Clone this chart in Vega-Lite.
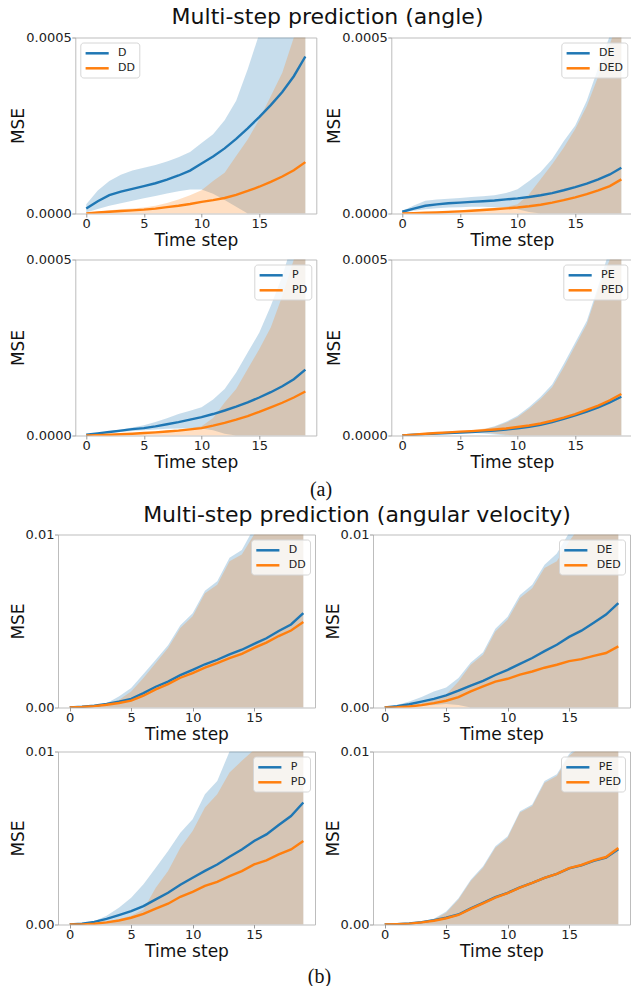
{
"$schema": "https://vega.github.io/schema/vega-lite/v6.json",
"padding": {"left": 8, "top": 5.5, "right": 0, "bottom": 0},
"config": {
  "font": "DejaVu Sans",
  "view": {"stroke": "#bdbdbd", "strokeWidth": 1},
  "axis": {"domain": false, "grid": false, "tickColor": "#9a9a9a", "tickSize": 3.5, "labelFontSize": 13, "labelColor": "#222222", "titleFontSize": 17, "titleFontWeight": "normal", "titleColor": "#111111", "labelFlush": false, "labelFont": "DejaVu Sans", "titleFont": "DejaVu Sans"},
  "axisX": {"labelPadding": 0.5, "titlePadding": 2},
  "axisY": {"labelPadding": 0.5, "titlePadding": -2},
  "legend": {"labelFontSize": 11, "labelFont": "DejaVu Sans", "labelColor": "#222222", "symbolType": "M-1,0H3.2", "symbolStrokeWidth": 2.5, "symbolSize": 121, "fillColor": "rgba(255,255,255,0.8)", "strokeColor": "#d6d6d6", "cornerRadius": 3, "padding": 3.8, "offset": 5, "rowPadding": 3, "labelOffset": 20},
  "title": {"font": "DejaVu Sans", "fontWeight": "normal", "color": "#111111"}
},
"datasets": {
"a1": [
{"s":"D","t":0,"m":1.4e-5,"lo":0.3e-5,"hi":2.6e-5},{"s":"D","t":1,"m":3.5e-5,"lo":1.3e-5,"hi":6.5e-5},{"s":"D","t":2,"m":5.2e-5,"lo":2.2e-5,"hi":9.2e-5},{"s":"D","t":3,"m":6.2e-5,"lo":2.9e-5,"hi":11.0e-5},{"s":"D","t":4,"m":7.0e-5,"lo":3.6e-5,"hi":12.2e-5},{"s":"D","t":5,"m":7.8e-5,"lo":4.3e-5,"hi":13.0e-5},{"s":"D","t":6,"m":8.6e-5,"lo":5.0e-5,"hi":13.8e-5},{"s":"D","t":7,"m":9.6e-5,"lo":5.7e-5,"hi":14.8e-5},{"s":"D","t":8,"m":10.8e-5,"lo":6.3e-5,"hi":16.0e-5},{"s":"D","t":9,"m":12.2e-5,"lo":6.8e-5,"hi":17.5e-5},{"s":"D","t":10,"m":14.2e-5,"lo":6.8e-5,"hi":20.0e-5},{"s":"D","t":11,"m":16.2e-5,"lo":5.6e-5,"hi":22.5e-5},{"s":"D","t":12,"m":18.5e-5,"lo":3.8e-5,"hi":26.5e-5},{"s":"D","t":13,"m":21.2e-5,"lo":1.9e-5,"hi":32e-5},{"s":"D","t":14,"m":24.2e-5,"lo":0,"hi":41e-5},{"s":"D","t":15,"m":27.4e-5,"lo":0,"hi":51e-5},{"s":"D","t":16,"m":30.8e-5,"lo":0,"hi":60e-5},{"s":"D","t":17,"m":34.5e-5,"lo":0,"hi":68e-5},{"s":"D","t":18,"m":39.0e-5,"lo":0,"hi":78e-5},{"s":"D","t":19,"m":44.6e-5,"lo":0,"hi":88e-5},
{"s":"DD","t":0,"m":0,"lo":0,"hi":0.1e-5},{"s":"DD","t":1,"m":0.3e-5,"lo":0,"hi":0.5e-5},{"s":"DD","t":2,"m":0.5e-5,"lo":0,"hi":0.9e-5},{"s":"DD","t":3,"m":0.7e-5,"lo":0,"hi":1.2e-5},{"s":"DD","t":4,"m":0.9e-5,"lo":0,"hi":1.4e-5},{"s":"DD","t":5,"m":1.1e-5,"lo":0,"hi":1.7e-5},{"s":"DD","t":6,"m":1.4e-5,"lo":0,"hi":2.2e-5},{"s":"DD","t":7,"m":1.8e-5,"lo":0,"hi":3.0e-5},{"s":"DD","t":8,"m":2.2e-5,"lo":0,"hi":4.0e-5},{"s":"DD","t":9,"m":2.7e-5,"lo":0,"hi":5.2e-5},{"s":"DD","t":10,"m":3.3e-5,"lo":0,"hi":6.6e-5},{"s":"DD","t":11,"m":3.8e-5,"lo":0,"hi":9.2e-5},{"s":"DD","t":12,"m":4.4e-5,"lo":0,"hi":11.6e-5},{"s":"DD","t":13,"m":5.3e-5,"lo":0,"hi":16.3e-5},{"s":"DD","t":14,"m":6.4e-5,"lo":0,"hi":21e-5},{"s":"DD","t":15,"m":7.6e-5,"lo":0,"hi":26.7e-5},{"s":"DD","t":16,"m":9.0e-5,"lo":0,"hi":33.3e-5},{"s":"DD","t":17,"m":10.5e-5,"lo":0,"hi":40e-5},{"s":"DD","t":18,"m":12.3e-5,"lo":0,"hi":50e-5},{"s":"DD","t":19,"m":14.6e-5,"lo":0,"hi":60e-5}
],
"a2": [
{"s":"DE","t":0,"m":0.5e-5,"lo":0.3e-5,"hi":0.7e-5},{"s":"DE","t":1,"m":1.4e-5,"lo":0.8e-5,"hi":2.3e-5},{"s":"DE","t":2,"m":2.2e-5,"lo":1.2e-5,"hi":3.6e-5},{"s":"DE","t":3,"m":2.6e-5,"lo":1.5e-5,"hi":4.0e-5},{"s":"DE","t":4,"m":2.9e-5,"lo":1.7e-5,"hi":4.2e-5},{"s":"DE","t":5,"m":3.1e-5,"lo":1.8e-5,"hi":4.4e-5},{"s":"DE","t":6,"m":3.3e-5,"lo":1.9e-5,"hi":4.7e-5},{"s":"DE","t":7,"m":3.5e-5,"lo":1.9e-5,"hi":4.9e-5},{"s":"DE","t":8,"m":3.7e-5,"lo":1.8e-5,"hi":5.2e-5},{"s":"DE","t":9,"m":4.0e-5,"lo":1.7e-5,"hi":5.8e-5},{"s":"DE","t":10,"m":4.3e-5,"lo":1.2e-5,"hi":6.9e-5},{"s":"DE","t":11,"m":4.7e-5,"lo":0.4e-5,"hi":9.2e-5},{"s":"DE","t":12,"m":5.2e-5,"lo":0,"hi":11.8e-5},{"s":"DE","t":13,"m":5.8e-5,"lo":0,"hi":15.5e-5},{"s":"DE","t":14,"m":6.6e-5,"lo":0,"hi":20.5e-5},{"s":"DE","t":15,"m":7.5e-5,"lo":0,"hi":25e-5},{"s":"DE","t":16,"m":8.5e-5,"lo":0,"hi":32e-5},{"s":"DE","t":17,"m":9.7e-5,"lo":0,"hi":41.5e-5},{"s":"DE","t":18,"m":11.1e-5,"lo":0,"hi":50.5e-5},{"s":"DE","t":19,"m":13.0e-5,"lo":0,"hi":60e-5},
{"s":"DED","t":0,"m":0,"lo":0,"hi":0.05e-5},{"s":"DED","t":1,"m":0.1e-5,"lo":0,"hi":0.2e-5},{"s":"DED","t":2,"m":0.2e-5,"lo":0,"hi":0.35e-5},{"s":"DED","t":3,"m":0.3e-5,"lo":0,"hi":0.5e-5},{"s":"DED","t":4,"m":0.45e-5,"lo":0,"hi":0.7e-5},{"s":"DED","t":5,"m":0.6e-5,"lo":0,"hi":0.9e-5},{"s":"DED","t":6,"m":0.8e-5,"lo":0,"hi":1.1e-5},{"s":"DED","t":7,"m":1.0e-5,"lo":0,"hi":1.35e-5},{"s":"DED","t":8,"m":1.2e-5,"lo":0,"hi":1.6e-5},{"s":"DED","t":9,"m":1.45e-5,"lo":0,"hi":1.9e-5},{"s":"DED","t":10,"m":1.7e-5,"lo":0,"hi":2.6e-5},{"s":"DED","t":11,"m":2.05e-5,"lo":0,"hi":5.5e-5},{"s":"DED","t":12,"m":2.5e-5,"lo":0,"hi":9.7e-5},{"s":"DED","t":13,"m":3.1e-5,"lo":0,"hi":14e-5},{"s":"DED","t":14,"m":3.8e-5,"lo":0,"hi":18.7e-5},{"s":"DED","t":15,"m":4.6e-5,"lo":0,"hi":24e-5},{"s":"DED","t":16,"m":5.5e-5,"lo":0,"hi":30.5e-5},{"s":"DED","t":17,"m":6.6e-5,"lo":0,"hi":39e-5},{"s":"DED","t":18,"m":7.8e-5,"lo":0,"hi":48e-5},{"s":"DED","t":19,"m":9.7e-5,"lo":0,"hi":58e-5}
],
"a3": [
{"s":"P","t":0,"m":0.2e-5,"lo":0.1e-5,"hi":0.2e-5},{"s":"P","t":1,"m":0.6e-5,"lo":0.4e-5,"hi":0.7e-5},{"s":"P","t":2,"m":1.0e-5,"lo":0.7e-5,"hi":1.2e-5},{"s":"P","t":3,"m":1.4e-5,"lo":1.0e-5,"hi":1.7e-5},{"s":"P","t":4,"m":1.8e-5,"lo":1.3e-5,"hi":2.3e-5},{"s":"P","t":5,"m":2.1e-5,"lo":1.5e-5,"hi":2.9e-5},{"s":"P","t":6,"m":2.6e-5,"lo":1.7e-5,"hi":3.8e-5},{"s":"P","t":7,"m":3.2e-5,"lo":1.9e-5,"hi":4.9e-5},{"s":"P","t":8,"m":3.8e-5,"lo":2.0e-5,"hi":6.1e-5},{"s":"P","t":9,"m":4.5e-5,"lo":2.1e-5,"hi":7.0e-5},{"s":"P","t":10,"m":5.2e-5,"lo":2.0e-5,"hi":8.0e-5},{"s":"P","t":11,"m":6.1e-5,"lo":1.5e-5,"hi":10.2e-5},{"s":"P","t":12,"m":7.1e-5,"lo":0.5e-5,"hi":13.2e-5},{"s":"P","t":13,"m":8.2e-5,"lo":0,"hi":17.9e-5},{"s":"P","t":14,"m":9.4e-5,"lo":0,"hi":23.6e-5},{"s":"P","t":15,"m":10.8e-5,"lo":0,"hi":29.2e-5},{"s":"P","t":16,"m":12.3e-5,"lo":0,"hi":36.8e-5},{"s":"P","t":17,"m":14.0e-5,"lo":0,"hi":45.3e-5},{"s":"P","t":18,"m":16.0e-5,"lo":0,"hi":56e-5},{"s":"P","t":19,"m":18.7e-5,"lo":0,"hi":68e-5},
{"s":"PD","t":0,"m":0,"lo":0,"hi":0.02e-5},{"s":"PD","t":1,"m":0.1e-5,"lo":0,"hi":0.15e-5},{"s":"PD","t":2,"m":0.2e-5,"lo":0,"hi":0.3e-5},{"s":"PD","t":3,"m":0.35e-5,"lo":0,"hi":0.5e-5},{"s":"PD","t":4,"m":0.5e-5,"lo":0,"hi":0.7e-5},{"s":"PD","t":5,"m":0.7e-5,"lo":0,"hi":0.9e-5},{"s":"PD","t":6,"m":0.9e-5,"lo":0,"hi":1.1e-5},{"s":"PD","t":7,"m":1.15e-5,"lo":0,"hi":1.4e-5},{"s":"PD","t":8,"m":1.4e-5,"lo":0,"hi":1.7e-5},{"s":"PD","t":9,"m":1.75e-5,"lo":0,"hi":2.1e-5},{"s":"PD","t":10,"m":2.1e-5,"lo":0,"hi":2.6e-5},{"s":"PD","t":11,"m":2.8e-5,"lo":0,"hi":5.0e-5},{"s":"PD","t":12,"m":3.6e-5,"lo":0,"hi":9.4e-5},{"s":"PD","t":13,"m":4.5e-5,"lo":0,"hi":13.2e-5},{"s":"PD","t":14,"m":5.5e-5,"lo":0,"hi":18.9e-5},{"s":"PD","t":15,"m":6.7e-5,"lo":0,"hi":24.5e-5},{"s":"PD","t":16,"m":8.0e-5,"lo":0,"hi":30.7e-5},{"s":"PD","t":17,"m":9.3e-5,"lo":0,"hi":39.6e-5},{"s":"PD","t":18,"m":10.8e-5,"lo":0,"hi":50e-5},{"s":"PD","t":19,"m":12.5e-5,"lo":0,"hi":62e-5}
],
"a4": [
{"s":"PE","t":0,"m":0,"lo":0,"hi":0},{"s":"PE","t":1,"m":0.2e-5,"lo":0.15e-5,"hi":0.3e-5},{"s":"PE","t":2,"m":0.4e-5,"lo":0.3e-5,"hi":0.5e-5},{"s":"PE","t":3,"m":0.55e-5,"lo":0.4e-5,"hi":0.7e-5},{"s":"PE","t":4,"m":0.7e-5,"lo":0.5e-5,"hi":0.9e-5},{"s":"PE","t":5,"m":0.85e-5,"lo":0.6e-5,"hi":1.1e-5},{"s":"PE","t":6,"m":1.0e-5,"lo":0.7e-5,"hi":1.3e-5},{"s":"PE","t":7,"m":1.2e-5,"lo":0.6e-5,"hi":1.7e-5},{"s":"PE","t":8,"m":1.4e-5,"lo":0.3e-5,"hi":2.6e-5},{"s":"PE","t":9,"m":1.7e-5,"lo":0,"hi":3.9e-5},{"s":"PE","t":10,"m":2.05e-5,"lo":0,"hi":5.6e-5},{"s":"PE","t":11,"m":2.5e-5,"lo":0,"hi":8.1e-5},{"s":"PE","t":12,"m":3.0e-5,"lo":0,"hi":11.0e-5},{"s":"PE","t":13,"m":3.8e-5,"lo":0,"hi":14.5e-5},{"s":"PE","t":14,"m":4.7e-5,"lo":0,"hi":20.3e-5},{"s":"PE","t":15,"m":5.7e-5,"lo":0,"hi":26.4e-5},{"s":"PE","t":16,"m":6.8e-5,"lo":0,"hi":32.5e-5},{"s":"PE","t":17,"m":8.0e-5,"lo":0,"hi":42.5e-5},{"s":"PE","t":18,"m":9.4e-5,"lo":0,"hi":53e-5},{"s":"PE","t":19,"m":11.0e-5,"lo":0,"hi":64e-5},
{"s":"PED","t":0,"m":0,"lo":0,"hi":0},{"s":"PED","t":1,"m":0.25e-5,"lo":0.2e-5,"hi":0.3e-5},{"s":"PED","t":2,"m":0.5e-5,"lo":0.4e-5,"hi":0.6e-5},{"s":"PED","t":3,"m":0.7e-5,"lo":0.6e-5,"hi":0.8e-5},{"s":"PED","t":4,"m":0.9e-5,"lo":0.8e-5,"hi":1.0e-5},{"s":"PED","t":5,"m":1.1e-5,"lo":0.9e-5,"hi":1.3e-5},{"s":"PED","t":6,"m":1.25e-5,"lo":1.0e-5,"hi":1.5e-5},{"s":"PED","t":7,"m":1.45e-5,"lo":0.9e-5,"hi":1.9e-5},{"s":"PED","t":8,"m":1.7e-5,"lo":0.6e-5,"hi":2.4e-5},{"s":"PED","t":9,"m":2.0e-5,"lo":0.2e-5,"hi":3.6e-5},{"s":"PED","t":10,"m":2.4e-5,"lo":0,"hi":5.2e-5},{"s":"PED","t":11,"m":2.85e-5,"lo":0,"hi":7.6e-5},{"s":"PED","t":12,"m":3.4e-5,"lo":0,"hi":10.4e-5},{"s":"PED","t":13,"m":4.2e-5,"lo":0,"hi":13.7e-5},{"s":"PED","t":14,"m":5.1e-5,"lo":0,"hi":19.3e-5},{"s":"PED","t":15,"m":6.1e-5,"lo":0,"hi":25.5e-5},{"s":"PED","t":16,"m":7.3e-5,"lo":0,"hi":31.6e-5},{"s":"PED","t":17,"m":8.5e-5,"lo":0,"hi":41.5e-5},{"s":"PED","t":18,"m":10.0e-5,"lo":0,"hi":50e-5},{"s":"PED","t":19,"m":11.8e-5,"lo":0,"hi":60e-5}
],
"b1": [
{"s":"D","t":0,"m":0,"lo":0,"hi":0},{"s":"D","t":1,"m":0.04e-3,"lo":0,"hi":0.05e-3},{"s":"D","t":2,"m":0.1e-3,"lo":0,"hi":0.12e-3},{"s":"D","t":3,"m":0.2e-3,"lo":0,"hi":0.25e-3},{"s":"D","t":4,"m":0.33e-3,"lo":0,"hi":0.64e-3},{"s":"D","t":5,"m":0.5e-3,"lo":0,"hi":1.12e-3},{"s":"D","t":6,"m":0.83e-3,"lo":0,"hi":1.93e-3},{"s":"D","t":7,"m":1.2e-3,"lo":0,"hi":2.76e-3},{"s":"D","t":8,"m":1.5e-3,"lo":0,"hi":3.6e-3},{"s":"D","t":9,"m":1.87e-3,"lo":0,"hi":4.75e-3},{"s":"D","t":10,"m":2.18e-3,"lo":0,"hi":5.45e-3},{"s":"D","t":11,"m":2.5e-3,"lo":0,"hi":6.75e-3},{"s":"D","t":12,"m":2.76e-3,"lo":0,"hi":7.3e-3},{"s":"D","t":13,"m":3.07e-3,"lo":0,"hi":8.65e-3},{"s":"D","t":14,"m":3.34e-3,"lo":0,"hi":9.1e-3},{"s":"D","t":15,"m":3.68e-3,"lo":0,"hi":10.4e-3},{"s":"D","t":16,"m":4.0e-3,"lo":0,"hi":11.7e-3},{"s":"D","t":17,"m":4.42e-3,"lo":0,"hi":12.9e-3},{"s":"D","t":18,"m":4.8e-3,"lo":0,"hi":14e-3},{"s":"D","t":19,"m":5.46e-3,"lo":0,"hi":15.5e-3},
{"s":"DD","t":0,"m":0,"lo":0,"hi":0},{"s":"DD","t":1,"m":0.03e-3,"lo":0,"hi":0.03e-3},{"s":"DD","t":2,"m":0.08e-3,"lo":0,"hi":0.09e-3},{"s":"DD","t":3,"m":0.16e-3,"lo":0,"hi":0.2e-3},{"s":"DD","t":4,"m":0.26e-3,"lo":0,"hi":0.44e-3},{"s":"DD","t":5,"m":0.4e-3,"lo":0,"hi":0.93e-3},{"s":"DD","t":6,"m":0.68e-3,"lo":0,"hi":1.7e-3},{"s":"DD","t":7,"m":1.05e-3,"lo":0,"hi":2.57e-3},{"s":"DD","t":8,"m":1.35e-3,"lo":0,"hi":3.44e-3},{"s":"DD","t":9,"m":1.72e-3,"lo":0,"hi":4.6e-3},{"s":"DD","t":10,"m":1.99e-3,"lo":0,"hi":5.27e-3},{"s":"DD","t":11,"m":2.3e-3,"lo":0,"hi":6.6e-3},{"s":"DD","t":12,"m":2.56e-3,"lo":0,"hi":7.1e-3},{"s":"DD","t":13,"m":2.85e-3,"lo":0,"hi":8.46e-3},{"s":"DD","t":14,"m":3.1e-3,"lo":0,"hi":8.84e-3},{"s":"DD","t":15,"m":3.45e-3,"lo":0,"hi":10.0e-3},{"s":"DD","t":16,"m":3.75e-3,"lo":0,"hi":11.2e-3},{"s":"DD","t":17,"m":4.13e-3,"lo":0,"hi":12.4e-3},{"s":"DD","t":18,"m":4.45e-3,"lo":0,"hi":13.6e-3},{"s":"DD","t":19,"m":4.94e-3,"lo":0,"hi":15e-3}
],
"b2": [
{"s":"DE","t":0,"m":0,"lo":0,"hi":0},{"s":"DE","t":1,"m":0.08e-3,"lo":0.02e-3,"hi":0.15e-3},{"s":"DE","t":2,"m":0.19e-3,"lo":0.05e-3,"hi":0.35e-3},{"s":"DE","t":3,"m":0.34e-3,"lo":0.1e-3,"hi":0.6e-3},{"s":"DE","t":4,"m":0.5e-3,"lo":0.15e-3,"hi":0.93e-3},{"s":"DE","t":5,"m":0.7e-3,"lo":0.2e-3,"hi":1.15e-3},{"s":"DE","t":6,"m":0.97e-3,"lo":0.15e-3,"hi":1.7e-3},{"s":"DE","t":7,"m":1.27e-3,"lo":0,"hi":2.6e-3},{"s":"DE","t":8,"m":1.54e-3,"lo":0,"hi":3.2e-3},{"s":"DE","t":9,"m":1.88e-3,"lo":0,"hi":4.55e-3},{"s":"DE","t":10,"m":2.18e-3,"lo":0,"hi":5.25e-3},{"s":"DE","t":11,"m":2.52e-3,"lo":0,"hi":6.5e-3},{"s":"DE","t":12,"m":2.86e-3,"lo":0,"hi":7.1e-3},{"s":"DE","t":13,"m":3.26e-3,"lo":0,"hi":8.25e-3},{"s":"DE","t":14,"m":3.63e-3,"lo":0,"hi":8.9e-3},{"s":"DE","t":15,"m":4.08e-3,"lo":0,"hi":10.1e-3},{"s":"DE","t":16,"m":4.44e-3,"lo":0,"hi":11.2e-3},{"s":"DE","t":17,"m":4.9e-3,"lo":0,"hi":12.4e-3},{"s":"DE","t":18,"m":5.37e-3,"lo":0,"hi":13.5e-3},{"s":"DE","t":19,"m":6.04e-3,"lo":0,"hi":15e-3},
{"s":"DED","t":0,"m":0,"lo":0,"hi":0},{"s":"DED","t":1,"m":0.02e-3,"lo":0,"hi":0.04e-3},{"s":"DED","t":2,"m":0.06e-3,"lo":0,"hi":0.12e-3},{"s":"DED","t":3,"m":0.14e-3,"lo":0,"hi":0.25e-3},{"s":"DED","t":4,"m":0.25e-3,"lo":0,"hi":0.45e-3},{"s":"DED","t":5,"m":0.39e-3,"lo":0,"hi":0.75e-3},{"s":"DED","t":6,"m":0.6e-3,"lo":0,"hi":1.5e-3},{"s":"DED","t":7,"m":0.93e-3,"lo":0,"hi":2.47e-3},{"s":"DED","t":8,"m":1.22e-3,"lo":0,"hi":3.05e-3},{"s":"DED","t":9,"m":1.5e-3,"lo":0,"hi":4.4e-3},{"s":"DED","t":10,"m":1.66e-3,"lo":0,"hi":5.08e-3},{"s":"DED","t":11,"m":1.9e-3,"lo":0,"hi":6.33e-3},{"s":"DED","t":12,"m":2.08e-3,"lo":0,"hi":6.9e-3},{"s":"DED","t":13,"m":2.3e-3,"lo":0,"hi":8.07e-3},{"s":"DED","t":14,"m":2.47e-3,"lo":0,"hi":8.46e-3},{"s":"DED","t":15,"m":2.68e-3,"lo":0,"hi":9.6e-3},{"s":"DED","t":16,"m":2.8e-3,"lo":0,"hi":10.6e-3},{"s":"DED","t":17,"m":2.98e-3,"lo":0,"hi":11.8e-3},{"s":"DED","t":18,"m":3.15e-3,"lo":0,"hi":13e-3},{"s":"DED","t":19,"m":3.53e-3,"lo":0,"hi":14.5e-3}
],
"b3": [
{"s":"P","t":0,"m":0,"lo":0,"hi":0},{"s":"P","t":1,"m":0.05e-3,"lo":0,"hi":0.06e-3},{"s":"P","t":2,"m":0.15e-3,"lo":0,"hi":0.19e-3},{"s":"P","t":3,"m":0.32e-3,"lo":0,"hi":0.5e-3},{"s":"P","t":4,"m":0.54e-3,"lo":0,"hi":0.97e-3},{"s":"P","t":5,"m":0.77e-3,"lo":0,"hi":1.54e-3},{"s":"P","t":6,"m":1.06e-3,"lo":0,"hi":2.32e-3},{"s":"P","t":7,"m":1.45e-3,"lo":0,"hi":3.28e-3},{"s":"P","t":8,"m":1.83e-3,"lo":0,"hi":4.25e-3},{"s":"P","t":9,"m":2.3e-3,"lo":0,"hi":5.31e-3},{"s":"P","t":10,"m":2.7e-3,"lo":0,"hi":6.08e-3},{"s":"P","t":11,"m":3.1e-3,"lo":0,"hi":7.53e-3},{"s":"P","t":12,"m":3.47e-3,"lo":0,"hi":8.3e-3},{"s":"P","t":13,"m":3.92e-3,"lo":0,"hi":10e-3},{"s":"P","t":14,"m":4.34e-3,"lo":0,"hi":11.3e-3},{"s":"P","t":15,"m":4.83e-3,"lo":0,"hi":12.5e-3},{"s":"P","t":16,"m":5.21e-3,"lo":0,"hi":13.5e-3},{"s":"P","t":17,"m":5.75e-3,"lo":0,"hi":14.5e-3},{"s":"P","t":18,"m":6.27e-3,"lo":0,"hi":15.5e-3},{"s":"P","t":19,"m":7.05e-3,"lo":0,"hi":17e-3},
{"s":"PD","t":0,"m":0,"lo":0,"hi":0},{"s":"PD","t":1,"m":0.01e-3,"lo":0,"hi":0.02e-3},{"s":"PD","t":2,"m":0.04e-3,"lo":0,"hi":0.06e-3},{"s":"PD","t":3,"m":0.12e-3,"lo":0,"hi":0.15e-3},{"s":"PD","t":4,"m":0.23e-3,"lo":0,"hi":0.3e-3},{"s":"PD","t":5,"m":0.39e-3,"lo":0,"hi":0.5e-3},{"s":"PD","t":6,"m":0.62e-3,"lo":0,"hi":0.87e-3},{"s":"PD","t":7,"m":0.92e-3,"lo":0,"hi":2.12e-3},{"s":"PD","t":8,"m":1.2e-3,"lo":0,"hi":3.09e-3},{"s":"PD","t":9,"m":1.6e-3,"lo":0,"hi":4.44e-3},{"s":"PD","t":10,"m":1.89e-3,"lo":0,"hi":5.4e-3},{"s":"PD","t":11,"m":2.23e-3,"lo":0,"hi":6.76e-3},{"s":"PD","t":12,"m":2.47e-3,"lo":0,"hi":7.53e-3},{"s":"PD","t":13,"m":2.8e-3,"lo":0,"hi":8.78e-3},{"s":"PD","t":14,"m":3.09e-3,"lo":0,"hi":9.46e-3},{"s":"PD","t":15,"m":3.47e-3,"lo":0,"hi":10.1e-3},{"s":"PD","t":16,"m":3.71e-3,"lo":0,"hi":11e-3},{"s":"PD","t":17,"m":4.05e-3,"lo":0,"hi":12e-3},{"s":"PD","t":18,"m":4.34e-3,"lo":0,"hi":13e-3},{"s":"PD","t":19,"m":4.83e-3,"lo":0,"hi":14e-3}
],
"b4": [
{"s":"PE","t":0,"m":0,"lo":0,"hi":0},{"s":"PE","t":1,"m":0.02e-3,"lo":0,"hi":0.03e-3},{"s":"PE","t":2,"m":0.06e-3,"lo":0,"hi":0.08e-3},{"s":"PE","t":3,"m":0.14e-3,"lo":0,"hi":0.17e-3},{"s":"PE","t":4,"m":0.25e-3,"lo":0,"hi":0.33e-3},{"s":"PE","t":5,"m":0.39e-3,"lo":0,"hi":0.75e-3},{"s":"PE","t":6,"m":0.58e-3,"lo":0,"hi":1.52e-3},{"s":"PE","t":7,"m":0.93e-3,"lo":0,"hi":2.58e-3},{"s":"PE","t":8,"m":1.25e-3,"lo":0,"hi":3.36e-3},{"s":"PE","t":9,"m":1.58e-3,"lo":0,"hi":4.52e-3},{"s":"PE","t":10,"m":1.83e-3,"lo":0,"hi":5.1e-3},{"s":"PE","t":11,"m":2.15e-3,"lo":0,"hi":6.55e-3},{"s":"PE","t":12,"m":2.41e-3,"lo":0,"hi":6.93e-3},{"s":"PE","t":13,"m":2.7e-3,"lo":0,"hi":8.3e-3},{"s":"PE","t":14,"m":2.93e-3,"lo":0,"hi":8.68e-3},{"s":"PE","t":15,"m":3.24e-3,"lo":0,"hi":9.85e-3},{"s":"PE","t":16,"m":3.42e-3,"lo":0,"hi":10.5e-3},{"s":"PE","t":17,"m":3.68e-3,"lo":0,"hi":11.6e-3},{"s":"PE","t":18,"m":3.86e-3,"lo":0,"hi":12.5e-3},{"s":"PE","t":19,"m":4.35e-3,"lo":0,"hi":13.5e-3},
{"s":"PED","t":0,"m":0,"lo":0,"hi":0},{"s":"PED","t":1,"m":0.02e-3,"lo":0,"hi":0.03e-3},{"s":"PED","t":2,"m":0.05e-3,"lo":0,"hi":0.07e-3},{"s":"PED","t":3,"m":0.12e-3,"lo":0,"hi":0.15e-3},{"s":"PED","t":4,"m":0.22e-3,"lo":0,"hi":0.29e-3},{"s":"PED","t":5,"m":0.36e-3,"lo":0,"hi":0.68e-3},{"s":"PED","t":6,"m":0.55e-3,"lo":0,"hi":1.45e-3},{"s":"PED","t":7,"m":0.9e-3,"lo":0,"hi":2.51e-3},{"s":"PED","t":8,"m":1.22e-3,"lo":0,"hi":3.28e-3},{"s":"PED","t":9,"m":1.55e-3,"lo":0,"hi":4.44e-3},{"s":"PED","t":10,"m":1.81e-3,"lo":0,"hi":5.02e-3},{"s":"PED","t":11,"m":2.13e-3,"lo":0,"hi":6.47e-3},{"s":"PED","t":12,"m":2.4e-3,"lo":0,"hi":6.85e-3},{"s":"PED","t":13,"m":2.7e-3,"lo":0,"hi":8.2e-3},{"s":"PED","t":14,"m":2.93e-3,"lo":0,"hi":8.59e-3},{"s":"PED","t":15,"m":3.26e-3,"lo":0,"hi":9.75e-3},{"s":"PED","t":16,"m":3.44e-3,"lo":0,"hi":10.3e-3},{"s":"PED","t":17,"m":3.71e-3,"lo":0,"hi":11.4e-3},{"s":"PED","t":18,"m":3.9e-3,"lo":0,"hi":12.3e-3},{"s":"PED","t":19,"m":4.42e-3,"lo":0,"hi":13.3e-3}
]
},
"columns": 1,
"spacing": 4,
"resolve": {"scale": {"fill": "independent", "stroke": "independent"}, "legend": {"stroke": "independent"}},
"concat": [
{
 "title": {"text": "(a)", "orient": "bottom", "anchor": "middle", "font": "Liberation Serif", "fontSize": 20, "offset": 8.5},
 "resolve": {"scale": {"fill": "independent", "stroke": "independent"}, "legend": {"stroke": "independent"}},
 "vconcat": [
 {
  "title": {"text": "Multi-step prediction (angle)", "anchor": "middle", "fontSize": 22, "dx": 6.5, "offset": 2.2},
  "spacing": -49.7,
  "resolve": {"scale": {"fill": "independent", "stroke": "independent"}, "legend": {"stroke": "independent"}},
  "hconcat": [
   {"width": 1, "height": 1, "view": {"stroke": null}, "data": {"values": []}, "mark": {"type": "point", "opacity": 0}, "encoding": {}},
   {
   "spacing": 3,
   "resolve": {"scale": {"fill": "independent", "stroke": "independent"}, "legend": {"stroke": "independent"}},
   "vconcat": [
   {"hconcat": [
    {"width": 241, "height": 176, "data": {"name": "a1"}, "layer": [
     {"mark": {"type": "area", "opacity": 0.25, "clip": true}, "encoding": {
       "x": {"field": "t", "type": "quantitative", "title": "Time step", "scale": {"domain": [-0.95, 19.95], "nice": false, "zero": false}, "axis": {"values": [0, 5, 10, 15]}},
       "y": {"field": "lo", "type": "quantitative", "title": "MSE", "scale": {"domain": [0, 0.0005], "nice": false}, "axis": {"values": [0, 0.0005], "format": ".4f"}},
       "y2": {"field": "hi"},
       "fill": {"field": "s", "type": "nominal", "scale": {"domain": ["DD", "D"], "range": ["#ff7f0e", "#1f77b4"]}, "legend": null}}},
     {"mark": {"type": "line", "strokeWidth": 2.4, "clip": true}, "encoding": {
       "x": {"field": "t", "type": "quantitative", "title": "Time step"},
       "y": {"field": "m", "type": "quantitative", "title": "MSE"},
       "stroke": {"field": "s", "type": "nominal", "scale": {"domain": ["D", "DD"], "range": ["#1f77b4", "#ff7f0e"]}, "legend": {"title": null, "orient": "top-left"}}}}
    ]},
    {"width": 241, "height": 176, "data": {"name": "a2"}, "layer": [
     {"mark": {"type": "area", "opacity": 0.25, "clip": true}, "encoding": {
       "x": {"field": "t", "type": "quantitative", "title": "Time step", "scale": {"domain": [-0.95, 19.95], "nice": false, "zero": false}, "axis": {"values": [0, 5, 10, 15]}},
       "y": {"field": "lo", "type": "quantitative", "title": "MSE", "scale": {"domain": [0, 0.0005], "nice": false}, "axis": {"values": [0, 0.0005], "format": ".4f"}},
       "y2": {"field": "hi"},
       "fill": {"field": "s", "type": "nominal", "scale": {"domain": ["DED", "DE"], "range": ["#ff7f0e", "#1f77b4"]}, "legend": null}}},
     {"mark": {"type": "line", "strokeWidth": 2.4, "clip": true}, "encoding": {
       "x": {"field": "t", "type": "quantitative", "title": "Time step"},
       "y": {"field": "m", "type": "quantitative", "title": "MSE"},
       "stroke": {"field": "s", "type": "nominal", "scale": {"domain": ["DE", "DED"], "range": ["#1f77b4", "#ff7f0e"]}, "legend": {"title": null, "orient": "top-right"}}}}
    ]}
   ], "spacing": 8, "resolve": {"scale": {"fill": "independent", "stroke": "independent"}, "legend": {"stroke": "independent"}}},
   {"hconcat": [
    {"width": 241, "height": 176, "data": {"name": "a3"}, "layer": [
     {"mark": {"type": "area", "opacity": 0.25, "clip": true}, "encoding": {
       "x": {"field": "t", "type": "quantitative", "title": "Time step", "scale": {"domain": [-0.95, 19.95], "nice": false, "zero": false}, "axis": {"values": [0, 5, 10, 15]}},
       "y": {"field": "lo", "type": "quantitative", "title": "MSE", "scale": {"domain": [0, 0.0005], "nice": false}, "axis": {"values": [0, 0.0005], "format": ".4f"}},
       "y2": {"field": "hi"},
       "fill": {"field": "s", "type": "nominal", "scale": {"domain": ["PD", "P"], "range": ["#ff7f0e", "#1f77b4"]}, "legend": null}}},
     {"mark": {"type": "line", "strokeWidth": 2.4, "clip": true}, "encoding": {
       "x": {"field": "t", "type": "quantitative", "title": "Time step"},
       "y": {"field": "m", "type": "quantitative", "title": "MSE"},
       "stroke": {"field": "s", "type": "nominal", "scale": {"domain": ["P", "PD"], "range": ["#1f77b4", "#ff7f0e"]}, "legend": {"title": null, "orient": "top-right"}}}}
    ]},
    {"width": 241, "height": 176, "data": {"name": "a4"}, "layer": [
     {"mark": {"type": "area", "opacity": 0.25, "clip": true}, "encoding": {
       "x": {"field": "t", "type": "quantitative", "title": "Time step", "scale": {"domain": [-0.95, 19.95], "nice": false, "zero": false}, "axis": {"values": [0, 5, 10, 15]}},
       "y": {"field": "lo", "type": "quantitative", "title": "MSE", "scale": {"domain": [0, 0.0005], "nice": false}, "axis": {"values": [0, 0.0005], "format": ".4f"}},
       "y2": {"field": "hi"},
       "fill": {"field": "s", "type": "nominal", "scale": {"domain": ["PED", "PE"], "range": ["#ff7f0e", "#1f77b4"]}, "legend": null}}},
     {"mark": {"type": "line", "strokeWidth": 2.4, "clip": true}, "encoding": {
       "x": {"field": "t", "type": "quantitative", "title": "Time step"},
       "y": {"field": "m", "type": "quantitative", "title": "MSE"},
       "stroke": {"field": "s", "type": "nominal", "scale": {"domain": ["PE", "PED"], "range": ["#1f77b4", "#ff7f0e"]}, "legend": {"title": null, "orient": "top-right"}}}}
    ]}
   ], "spacing": 8, "resolve": {"scale": {"fill": "independent", "stroke": "independent"}, "legend": {"stroke": "independent"}}}
   ]
   }
  ]
 }
 ]
},
{
 "title": {"text": "(b)", "orient": "bottom", "anchor": "middle", "font": "Liberation Serif", "fontSize": 20, "offset": 7},
 "resolve": {"scale": {"fill": "independent", "stroke": "independent"}, "legend": {"stroke": "independent"}},
 "vconcat": [
 {
  "title": {"text": "Multi-step prediction (angular velocity)", "anchor": "middle", "fontSize": 22, "dx": 37.5, "offset": 1},
  "spacing": 1,
  "resolve": {"scale": {"fill": "independent", "stroke": "independent"}, "legend": {"stroke": "independent"}},
  "vconcat": [
   {"hconcat": [
    {"width": 257, "height": 173, "data": {"name": "b1"}, "layer": [
     {"mark": {"type": "area", "opacity": 0.25, "clip": true}, "encoding": {
       "x": {"field": "t", "type": "quantitative", "title": "Time step", "scale": {"domain": [-0.95, 19.95], "nice": false, "zero": false}, "axis": {"values": [0, 5, 10, 15]}},
       "y": {"field": "lo", "type": "quantitative", "title": "MSE", "scale": {"domain": [0, 0.01], "nice": false}, "axis": {"values": [0, 0.01], "format": ".2f"}},
       "y2": {"field": "hi"},
       "fill": {"field": "s", "type": "nominal", "scale": {"domain": ["DD", "D"], "range": ["#ff7f0e", "#1f77b4"]}, "legend": null}}},
     {"mark": {"type": "line", "strokeWidth": 2.4, "clip": true}, "encoding": {
       "x": {"field": "t", "type": "quantitative", "title": "Time step"},
       "y": {"field": "m", "type": "quantitative", "title": "MSE"},
       "stroke": {"field": "s", "type": "nominal", "scale": {"domain": ["D", "DD"], "range": ["#1f77b4", "#ff7f0e"]}, "legend": {"title": null, "orient": "top-right"}}}}
    ]},
    {"width": 257, "height": 173, "data": {"name": "b2"}, "layer": [
     {"mark": {"type": "area", "opacity": 0.25, "clip": true}, "encoding": {
       "x": {"field": "t", "type": "quantitative", "title": "Time step", "scale": {"domain": [-0.95, 19.95], "nice": false, "zero": false}, "axis": {"values": [0, 5, 10, 15]}},
       "y": {"field": "lo", "type": "quantitative", "title": "MSE", "scale": {"domain": [0, 0.01], "nice": false}, "axis": {"values": [0, 0.01], "format": ".2f"}},
       "y2": {"field": "hi"},
       "fill": {"field": "s", "type": "nominal", "scale": {"domain": ["DED", "DE"], "range": ["#ff7f0e", "#1f77b4"]}, "legend": null}}},
     {"mark": {"type": "line", "strokeWidth": 2.4, "clip": true}, "encoding": {
       "x": {"field": "t", "type": "quantitative", "title": "Time step"},
       "y": {"field": "m", "type": "quantitative", "title": "MSE"},
       "stroke": {"field": "s", "type": "nominal", "scale": {"domain": ["DE", "DED"], "range": ["#1f77b4", "#ff7f0e"]}, "legend": {"title": null, "orient": "top-right"}}}}
    ]}
   ], "spacing": 7, "resolve": {"scale": {"fill": "independent", "stroke": "independent"}, "legend": {"stroke": "independent"}}},
   {"hconcat": [
    {"width": 257, "height": 173, "data": {"name": "b3"}, "layer": [
     {"mark": {"type": "area", "opacity": 0.25, "clip": true}, "encoding": {
       "x": {"field": "t", "type": "quantitative", "title": "Time step", "scale": {"domain": [-0.95, 19.95], "nice": false, "zero": false}, "axis": {"values": [0, 5, 10, 15]}},
       "y": {"field": "lo", "type": "quantitative", "title": "MSE", "scale": {"domain": [0, 0.01], "nice": false}, "axis": {"values": [0, 0.01], "format": ".2f"}},
       "y2": {"field": "hi"},
       "fill": {"field": "s", "type": "nominal", "scale": {"domain": ["PD", "P"], "range": ["#ff7f0e", "#1f77b4"]}, "legend": null}}},
     {"mark": {"type": "line", "strokeWidth": 2.4, "clip": true}, "encoding": {
       "x": {"field": "t", "type": "quantitative", "title": "Time step"},
       "y": {"field": "m", "type": "quantitative", "title": "MSE"},
       "stroke": {"field": "s", "type": "nominal", "scale": {"domain": ["P", "PD"], "range": ["#1f77b4", "#ff7f0e"]}, "legend": {"title": null, "orient": "top-right"}}}}
    ]},
    {"width": 257, "height": 173, "data": {"name": "b4"}, "layer": [
     {"mark": {"type": "area", "opacity": 0.25, "clip": true}, "encoding": {
       "x": {"field": "t", "type": "quantitative", "title": "Time step", "scale": {"domain": [-0.95, 19.95], "nice": false, "zero": false}, "axis": {"values": [0, 5, 10, 15]}},
       "y": {"field": "lo", "type": "quantitative", "title": "MSE", "scale": {"domain": [0, 0.01], "nice": false}, "axis": {"values": [0, 0.01], "format": ".2f"}},
       "y2": {"field": "hi"},
       "fill": {"field": "s", "type": "nominal", "scale": {"domain": ["PED", "PE"], "range": ["#ff7f0e", "#1f77b4"]}, "legend": null}}},
     {"mark": {"type": "line", "strokeWidth": 2.4, "clip": true}, "encoding": {
       "x": {"field": "t", "type": "quantitative", "title": "Time step"},
       "y": {"field": "m", "type": "quantitative", "title": "MSE"},
       "stroke": {"field": "s", "type": "nominal", "scale": {"domain": ["PE", "PED"], "range": ["#1f77b4", "#ff7f0e"]}, "legend": {"title": null, "orient": "top-right"}}}}
    ]}
   ], "spacing": 7, "resolve": {"scale": {"fill": "independent", "stroke": "independent"}, "legend": {"stroke": "independent"}}}
  ]
 }
 ]
}
]
}
